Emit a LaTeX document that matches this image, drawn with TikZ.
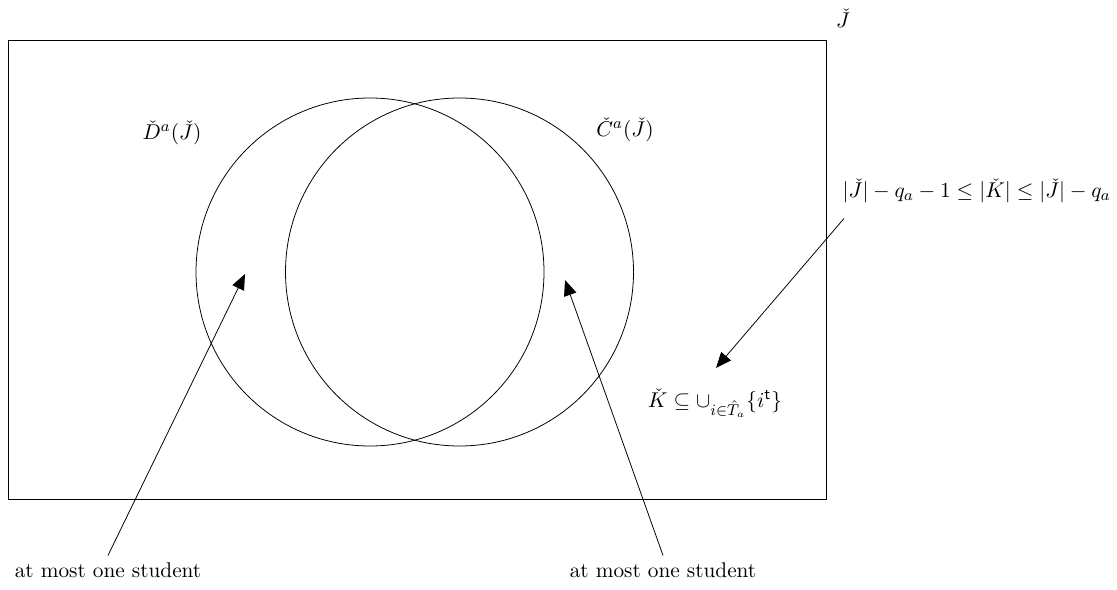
\documentclass[tikz,border=0pt]{standalone}
\usepackage{amsmath,amssymb}
\usetikzlibrary{calc,arrows.meta}

\begin{document}
\begin{tikzpicture}[
    lbl/.style={font=\fontsize{10.9}{13}\selectfont, inner sep=2pt},
    arr/.style={-{Triangle[length=2.8mm,width=2.3mm]}, thin},
    set/.style={draw, thin}
]
    \useasboundingbox (0,0) rectangle (20.106,10.602);

    % Universe
    \draw[set] (0.144,1.62) rectangle (14.868,9.882);
    \node[lbl] (uni) at (15.174,10.278) {$\check{J}$};

    % Sets
    \draw[set] (6.66,5.706) circle (3.132);
    \draw[set] (8.271,5.706) circle (3.132);
    \node[lbl] (dset) at (3.096,8.208) {$\check{D}^a(\check{J})$};
    \node[lbl] (cset) at (11.25,8.262) {$\check{C}^a(\check{J})$};

    % Bound on K
    \node[lbl] (ineq) at (17.58,7.164) {$|\check{J}|-q_a-1\leq|\check{K}|\leq|\check{J}|-q_a$};
    \node[lbl] (kset) at (12.87,3.348) {$\check{K}\subseteq\cup_{i\in\hat{T}_a}\{i^{\mathsf{t}}\}$};
    \coordinate (ktip) at (12.888,3.978);
    \draw[arr] ($(ineq.south west)+(0.1,-0.2)$) -- (ktip);

    % At most one student
    \node[lbl] (lone) at (1.944,0.342) {at most one student};
    \node[lbl] (rone) at (11.934,0.342) {at most one student};
    \coordinate (ltip) at (4.41,5.67);
    \coordinate (rtip) at (10.17,5.562);
    \draw[arr] (lone.north) ++(0,0.05) -- (ltip);
    \draw[arr] (rone.north) ++(0,0.05) -- (rtip);
\end{tikzpicture}
\end{document}
